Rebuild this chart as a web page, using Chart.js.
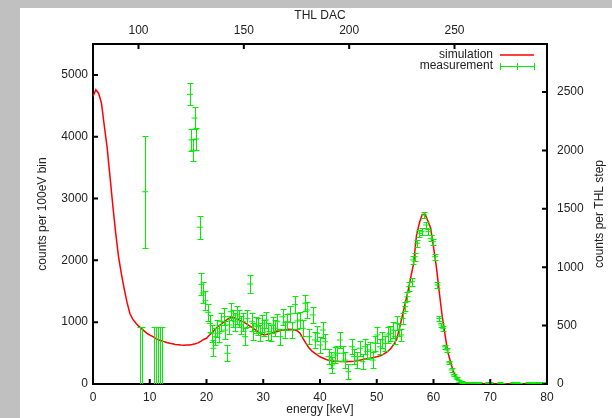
<!DOCTYPE html>
<html lang="en">
<head>
<meta charset="UTF-8">
<title>Spectrum | simulation vs measurement</title>
<script src="https://cdn.jsdelivr.net/npm/chart.js"></script>
<style>
  body { margin: 0; background: #c0c0c0; }
  #paper { position: absolute; left: 20px; top: 8px; width: 592px; height: 410px; background: #fff; }
  #wrap { position: absolute; left: 0; top: 0; width: 612px; height: 418px; }
</style>
</head>
<body>
<div id="paper"></div>
<div id="wrap"><canvas id="spectrum" width="612" height="418"></canvas></div>
<script>
// simulated spectrum, counts per 100 eV bin (left axis), read every 0.5 keV
const simEnergy = [
  0, 0.5, 1, 1.5, 2, 2.5, 3, 3.5, 4, 4.5, 5, 5.5, 6, 6.5, 7, 7.5, 8, 8.5, 9, 9.5,
  10, 10.5, 11, 11.5, 12, 12.5, 13, 13.5, 14, 14.5, 15, 15.5, 16, 16.5, 17, 17.5, 18, 18.5, 19, 19.5,
  20, 20.5, 21, 21.5, 22, 22.5, 23, 23.5, 24, 24.5, 25, 25.5, 26, 26.5, 27, 27.5, 28, 28.5, 29, 29.5,
  30, 30.5, 31, 31.5, 32, 32.5, 33, 33.5, 34, 34.5, 35, 35.5, 36, 36.5, 37, 37.5, 38, 38.5, 39, 39.5,
  40, 40.5, 41, 41.5, 42, 42.5, 43, 43.5, 44, 44.5, 45, 45.5, 46, 46.5, 47, 47.5, 48, 48.5, 49, 49.5,
  50, 50.5, 51, 51.5, 52, 52.5, 53, 53.5, 54, 54.5, 55, 55.5, 56, 56.5, 57, 57.5, 58, 58.5, 59, 59.5,
  60, 60.5, 61, 61.5, 62, 62.5, 63, 63.5, 64, 64.5, 65, 65.5, 66, 66.5, 67, 67.5, 68, 68.5, 69, 69.5,
  70, 70.5, 71, 71.5, 72, 72.5, 73, 73.5, 74, 74.5, 75, 75.5, 76, 76.5, 77, 77.5, 78, 78.5, 79, 79.5, 80
];
const simCounts = [
  4650, 4760, 4700, 4540, 4170, 3820, 3350, 2880, 2440, 2060, 1780, 1540, 1320, 1140, 1050, 990, 940, 900, 860, 820,
  790, 770, 740, 715, 700, 685, 670, 658, 650, 640, 635, 630, 628, 630, 632, 640, 650, 665, 690, 720,
  740, 790, 830, 880, 930, 960, 1000, 1035, 1065, 1080, 1070, 1045, 1025, 1005, 975, 945, 915, 885, 850, 815,
  795, 800, 810, 825, 840, 850, 865, 875, 880, 885, 882, 875, 860, 820, 740, 660, 590, 540, 505, 470,
  440, 420, 400, 385, 375, 370, 368, 365, 362, 360, 362, 365, 370, 377, 385, 395, 405, 412, 420, 430,
  440, 452, 470, 500, 530, 580, 640, 720, 900, 1100, 1300, 1500, 1730, 1950, 2400, 2600, 2740, 2750, 2640, 2520,
  2220, 1900, 1500, 1120, 820, 520, 360, 200, 110, 50, 20, 10, 5, 3, 2, 2, 1, 1, 1, 1,
  1, 1, 0, 0, 0, 0, 0, 0, 0, 0, 0, 0, 0, 0, 0, 0, 0, 0, 0, 0, 0
];

// measurement, counts per THL step (right axis)
const measEnergy = [
  8.2, 8.6, 9.2, 10.8, 11.05, 11.5, 11.8, 12.2,
  17.1, 17.35, 17.55, 17.9, 18.2, 18.8, 19.1, 19.4, 19.8, 20.3,
  20.6, 20.9, 21.2, 21.5, 21.8, 22.2, 22.5, 23.0, 23.3, 23.7, 24.0, 24.3, 24.6, 25.0, 25.3, 25.7, 26.0, 26.4, 26.8, 27.2, 27.7,
  28.0, 28.2, 28.7, 29.0, 29.4, 29.8, 30.1, 30.5, 30.9, 31.3, 31.7, 32.1, 32.5, 33.0, 33.4, 33.8, 34.2, 34.7, 35.1, 35.6, 36.0,
  36.5, 37.0, 37.4, 37.7, 38.1, 38.7, 39.1, 39.5, 40.0, 40.5, 40.9, 41.5, 41.9, 42.2, 42.6, 43.0, 43.5, 44.0, 44.4, 45.0,
  45.6, 46.0, 46.5, 47.0, 47.5, 47.9, 48.3, 48.8, 49.3, 49.7, 50.1, 50.6, 51.0, 51.5, 51.9, 52.3, 52.8, 53.2, 53.6, 54.0,
  54.3, 54.6, 55.0, 55.4, 55.7, 56.2, 56.4, 56.7, 57.1, 57.5, 57.9, 58.3, 58.7, 59.1, 59.5, 59.9, 60.3, 60.7, 61.0, 61.4,
  61.7, 62.0, 62.4, 62.8, 63.2, 63.6, 64.1, 64.5, 65.0, 65.6, 66.1, 67.0, 67.7, 68.0, 69.6, 70.0, 71.7, 72.1, 74.0, 74.7,
  75.1, 76.7, 77.5, 77.9, 78.8, 79.3
];
const measCounts = [
  -100, -100, 1646, -100, -100, -100, -100, -100,
  2480, 2090, 2000, 2277, 2098, 1342, 853, 780, 713, 614,
  519, 434, 306, 405, 477, 434, 533, 576, 462, 263, 505, 619, 562, 533, 591, 562, 505, 533, 405, 562, 856,
  533, 448, 505, 491, 434, 519, 477, 548, 448, 434, 505, 477, 533, 405, 576, 462, 533, 600, 462, 680, 540,
  548, 477, 691, 634, 405, 591, 377, 434, 334, 462, 362, 234, 205, 163, 248, 263, 377, 263, 205, 105,
  319, 234, 205, 306, 191, 319, 277, 291, 205, 348, 420, 319, 377, 348, 420, 434, 462, 405, 519, 462,
  420, 562, 662, 747, 833, 876, 1062, 1090, 1205, 1290, 1304, 1447, 1361, 1304, 1247, 1218, 1090, 848, 562, 505,
  477, 319, 291, 182, 120, 77, 49, 28, 20, 11, 8, 6, 7, 5, 6, 5, 6, 4, 6, 5,
  4, 6, 5, 6, 5, 6
];
const measErrors = [
  590, 590, 478, 590, 590, 590, 590, 590,
  95, 95, 95, 95, 95, 97, 95, 90, 80, 75,
  75, 75, 70, 75, 75, 75, 75, 75, 75, 70, 75, 75, 75, 75, 75, 75, 75, 75, 75, 75, 75,
  75, 70, 70, 70, 70, 70, 70, 70, 70, 70, 70, 70, 70, 70, 70, 70, 70, 70, 70, 70, 70,
  70, 70, 70, 70, 65, 65, 65, 65, 65, 65, 65, 65, 65, 65, 65, 65, 65, 65, 65, 65,
  65, 65, 65, 65, 65, 65, 65, 65, 65, 65, 65, 65, 65, 65, 65, 65, 65, 60, 60, 55,
  50, 45, 40, 40, 40, 35, 35, 35, 30, 30, 30, 25, 25, 25, 25, 25, 25, 25, 20, 20,
  20, 18, 18, 15, 15, 12, 10, 10, 8, 8, 8, 8, 8, 8, 8, 8, 8, 8, 8, 8,
  8, 8, 8, 8, 8, 8
];

const energyTicks = [0, 10, 20, 30, 40, 50, 60, 70, 80];
const thlTicks = [100, 150, 200, 250];
const countTicks = [0, 1000, 2000, 3000, 4000, 5000];
const stepTicks = [0, 500, 1000, 1500, 2000, 2500];

const txt = '#222';
const simColor = 'rgb(255, 0, 0)';
const measColor = 'rgb(0, 238, 0)';
const fontFamily = '"Liberation Sans", Arial, sans-serif';
Chart.defaults.font.family = fontFamily;
Chart.defaults.font.size = 12;
Chart.defaults.color = txt;

// gnuplot style error bars: vertical line with small caps
const errorBars = {
    id: 'errorBars',
    afterDatasetsDraw(chart) {
        const ctx = chart.ctx, a = chart.chartArea;
        chart.data.datasets.forEach((ds, i) => {
            if (!ds.errors) return;
            const meta = chart.getDatasetMeta(i);
            const ys = chart.scales[meta.yAxisID];
            ctx.save();
            ctx.beginPath();
            ctx.rect(a.left, a.top, a.right - a.left, a.bottom - a.top);
            ctx.clip();
            ctx.strokeStyle = measColor;
            ctx.lineWidth = 1;
            meta.data.forEach((pt, j) => {
                const v = ds.data[j].y, e = ds.errors[j];
                const x = Math.round(pt.x) + 0.5;
                const hi = Math.round(ys.getPixelForValue(v + e)) + 0.5;
                const lo = Math.round(ys.getPixelForValue(v - e)) + 0.5;
                ctx.beginPath();
                ctx.moveTo(x, hi); ctx.lineTo(x, lo);
                ctx.moveTo(x - 3, hi); ctx.lineTo(x + 3, hi);
                ctx.moveTo(x - 3, lo); ctx.lineTo(x + 3, lo);
                ctx.stroke();
            });
            ctx.restore();
        });
    }
};

// ticks pointing into the plot, right axis title, key in the top right corner
const frameExtras = {
    id: 'frameExtras',
    afterDraw(chart) {
        const ctx = chart.ctx, a = chart.chartArea, s = chart.scales;
        ctx.save();
        ctx.strokeStyle = '#000';
        ctx.lineWidth = 2;
        ctx.beginPath();
        s.x.ticks.forEach(t => { const p = s.x.getPixelForValue(t.value); ctx.moveTo(p, a.bottom); ctx.lineTo(p, a.bottom - 5); });
        s.thl.ticks.forEach(t => { const p = s.thl.getPixelForValue(t.value); ctx.moveTo(p, a.top); ctx.lineTo(p, a.top + 5); });
        s.y.ticks.forEach(t => { const p = s.y.getPixelForValue(t.value); ctx.moveTo(a.left, p); ctx.lineTo(a.left + 5, p); });
        s.y2.ticks.forEach(t => { const p = s.y2.getPixelForValue(t.value); ctx.moveTo(a.right, p); ctx.lineTo(a.right - 5, p); });
        ctx.stroke();
        ctx.restore();

        ctx.save();
        ctx.font = '12px ' + fontFamily;
        ctx.fillStyle = txt;
        ctx.textAlign = 'center';
        ctx.textBaseline = 'middle';
        ctx.translate(a.right + 53, (a.top + a.bottom) / 2);
        ctx.rotate(-Math.PI / 2);
        ctx.fillText('counts per THL step', 0, 0);
        ctx.restore();

        const tx = a.right - 54, x1 = a.right - 47, x2 = a.right - 13;
        const y1 = a.top + 11, y2 = a.top + 22;
        ctx.save();
        ctx.font = '12px ' + fontFamily;
        ctx.fillStyle = txt;
        ctx.textAlign = 'right';
        ctx.textBaseline = 'middle';
        ctx.fillText('simulation', tx, y1);
        ctx.fillText('measurement', tx, y2);
        ctx.restore();

        ctx.save();
        ctx.lineWidth = 1.5;
        ctx.strokeStyle = simColor;
        ctx.beginPath();
        ctx.moveTo(x1, y1);
        ctx.lineTo(x2, y1);
        ctx.stroke();
        ctx.restore();

        ctx.save();
        ctx.lineWidth = 1;
        ctx.strokeStyle = measColor;
        const xm = (x1 + x2) / 2;
        ctx.beginPath();
        ctx.moveTo(x1, y2 + 0.5); ctx.lineTo(x2, y2 + 0.5);
        [x1, xm, x2].forEach(x => { ctx.moveTo(Math.round(x) + 0.5, y2 - 3); ctx.lineTo(Math.round(x) + 0.5, y2 + 4); });
        ctx.stroke();
        ctx.restore();
    }
};

function fixTicks(list) {
    return function (scale) { scale.ticks = list.map(v => ({ value: v })); };
}
const plain = v => String(v);

const border = { display: true, color: '#000', width: 2 };
const noGrid = { display: false, drawTicks: false };

new Chart(document.getElementById('spectrum'), {
    type: 'scatter',
    data: {
        datasets: [
            {
                label: 'measurement',
                data: measEnergy.map((e, i) => ({ x: e, y: measCounts[i] })),
                errors: measErrors,
                xAxisID: 'x',
                yAxisID: 'y2',
                borderColor: measColor,
                backgroundColor: measColor,
                pointStyle: 'line',
                pointRadius: 3,
                borderWidth: 1
            },
            {
                label: 'simulation',
                data: simEnergy.map((e, i) => ({ x: e, y: simCounts[i] })),
                xAxisID: 'x',
                yAxisID: 'y',
                showLine: true,
                borderColor: simColor,
                borderWidth: 1.5,
                pointRadius: 0
            }
        ]
    },
    options: {
        responsive: false,
        animation: false,
        devicePixelRatio: 1,
        layout: { padding: 0 },
        plugins: { legend: { display: false }, tooltip: { enabled: false } },
        scales: {
            x: {
                type: 'linear', position: 'bottom', min: 0, max: 80,
                afterBuildTicks: fixTicks(energyTicks),
                afterFit: s => { s.height = 34; },
                grid: noGrid, border: border,
                ticks: { padding: 6, callback: plain },
                title: { display: true, text: 'energy [keV]', padding: { top: 0, bottom: 1 } }
            },
            thl: {
                type: 'linear', position: 'top', min: 78.4, max: 293.9,
                afterBuildTicks: fixTicks(thlTicks),
                afterFit: s => { s.height = 44; },
                grid: noGrid, border: border,
                ticks: { padding: 6, callback: plain },
                title: { display: true, text: 'THL DAC', padding: { top: 8, bottom: 0 } }
            },
            y: {
                type: 'linear', position: 'left', min: 0, max: 5500,
                afterBuildTicks: fixTicks(countTicks),
                afterFit: s => { s.width = 93; },
                grid: noGrid, border: border,
                ticks: { padding: 5, callback: plain },
                title: { display: true, text: 'counts per 100eV bin', padding: { top: 35, bottom: 0 } }
            },
            y2: {
                type: 'linear', position: 'right', min: 0, max: 2911,
                afterBuildTicks: fixTicks(stepTicks),
                afterFit: s => { s.width = 65; },
                grid: noGrid, border: border,
                ticks: { padding: 10, callback: plain }
            }
        }
    },
    plugins: [errorBars, frameExtras]
});
</script>
</body>
</html>
